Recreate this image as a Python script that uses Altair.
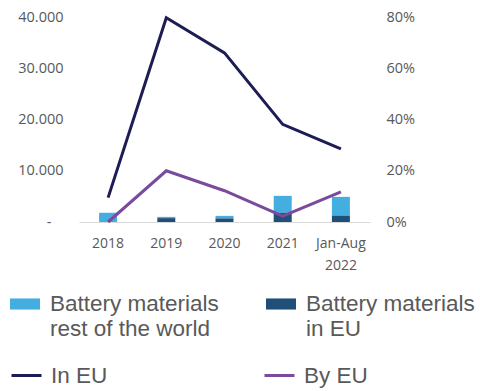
import altair as alt
import pandas as pd

years = ["2018", "2019", "2020", "2021", "Jan-Aug|2022"]
mat_eu = [0, 750, 700, 1800, 1250]
mat_row = [1800, 250, 500, 3300, 3650]
share_in_eu = [0.095, 0.797, 0.66, 0.381, 0.285]
share_by_eu = [0.0, 0.20, 0.122, 0.023, 0.118]

bar_names = ["Battery materials|rest of the world", "Battery materials|in EU"]
line_names = ["In EU", "By EU"]

bars = pd.DataFrame(
    [{"year": y, "series": bar_names[0], "value": r, "ord": 1} for y, r in zip(years, mat_row)]
    + [{"year": y, "series": bar_names[1], "value": e, "ord": 0} for y, e in zip(years, mat_eu)]
)
lines = pd.DataFrame(
    [{"year": y, "series": line_names[0], "share": v} for y, v in zip(years, share_in_eu)]
    + [{"year": y, "series": line_names[1], "share": v} for y, v in zip(years, share_by_eu)]
)

AX_FONT = "Open Sans"
LG_FONT = "Liberation Sans"
GRAY = "#595959"

x_enc = alt.X(
    "year:N",
    sort=years,
    scale=alt.Scale(paddingInner=0, paddingOuter=0),
    axis=alt.Axis(
        title=None,
        labelAngle=0,
        labelExpr="split(datum.label, '|')",
        labelFont=AX_FONT,
        labelFontSize=14,
        labelColor=GRAY,
        labelLineHeight=22,
        labelPadding=14,
        ticks=False,
        domainColor="#d9d9d9",
        domainWidth=1,
        grid=False,
    ),
)

bar_layer = alt.Chart(bars).mark_bar(size=18).encode(
    x=x_enc,
    y=alt.Y(
        "value:Q",
        stack="zero",
        scale=alt.Scale(domain=[0, 40000]),
        axis=alt.Axis(
            title=None,
            values=[0, 10000, 20000, 30000, 40000],
            labelExpr="datum.value == 0 ? '-' : replace(format(datum.value, ','), ',', '.')",
            labelFont=AX_FONT,
            labelFontSize=14.5,
            labelColor=GRAY,
            labelPadding={"condition": {"test": "datum.value == 0", "value": 28}, "value": 16},
            ticks=False,
            domain=False,
            grid=False,
        ),
    ),
    color=alt.Color(
        "series:N",
        scale=alt.Scale(domain=bar_names, range=["#45aee0", "#1f4e79"]),
        legend=alt.Legend(
            title=None,
            orient="none",
            legendX=-69,
            legendY=272,
            columns=2,
            columnPadding=47,
            padding=0,
            labelExpr="split(datum.label, '|')",
            labelFont=LG_FONT,
            labelFontSize=22.5,
            labelColor=GRAY,
            labelOffset=10,
            labelLimit=400,
            symbolType="M-1,-0.37H1V0.37H-1Z",
            symbolSize=900,
            symbolStrokeWidth=0,
        ),
    ),
    order=alt.Order("ord:Q"),
)

line_layer = alt.Chart(lines).mark_line(strokeWidth=3).encode(
    x=x_enc,
    y=alt.Y(
        "share:Q",
        scale=alt.Scale(domain=[0, 0.8]),
        axis=alt.Axis(
            title=None,
            orient="right",
            values=[0, 0.2, 0.4, 0.6, 0.8],
            format=".0%",
            labelFont=AX_FONT,
            labelFontSize=14.5,
            labelColor=GRAY,
            labelPadding=16,
            ticks=False,
            domain=False,
            grid=False,
        ),
    ),
    stroke=alt.Stroke(
        "series:N",
        scale=alt.Scale(domain=line_names, range=["#1c1d54", "#7a4a9c"]),
        legend=alt.Legend(
            title=None,
            orient="none",
            legendX=-69,
            legendY=342,
            columns=2,
            columnPadding=150,
            padding=0,
            labelFont=LG_FONT,
            labelFontSize=22.5,
            labelColor=GRAY,
            labelOffset=8,
            symbolType="stroke",
            symbolSize=900,
            symbolStrokeWidth=3,
        ),
    ),
)

chart = (
    alt.layer(bar_layer, line_layer)
    .resolve_scale(y="independent", color="independent", stroke="independent")
    .properties(
        width=291,
        height=205,
        background="white",
        autosize=alt.AutoSizeParams(type="none"),
        padding={"left": 79, "top": 17, "right": 110, "bottom": 169},
    )
    .configure_view(stroke=None)
)

chart.save("out.html", embed_options={"renderer": "svg", "actions": False})
